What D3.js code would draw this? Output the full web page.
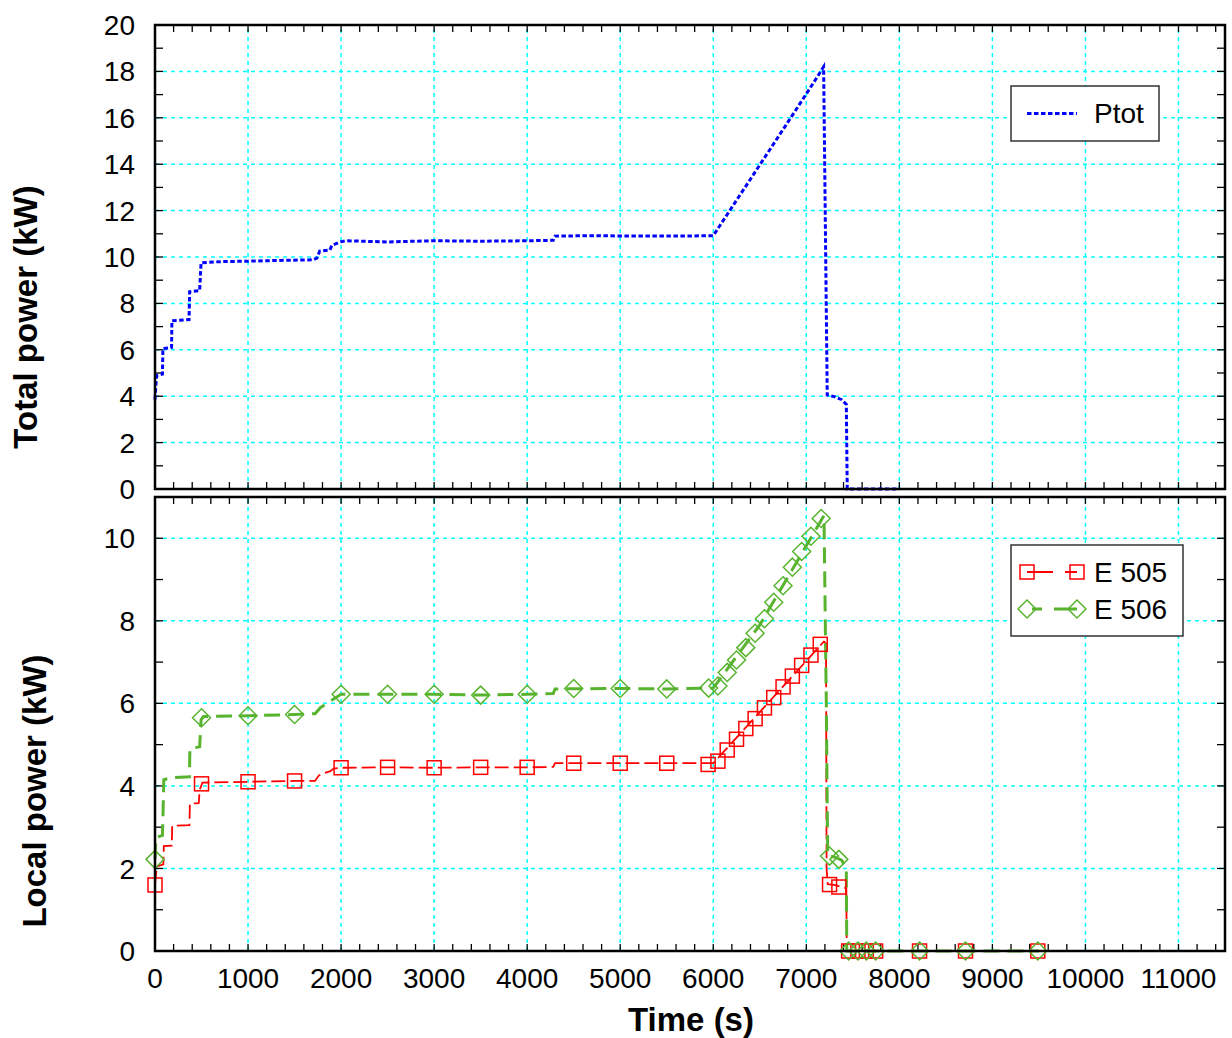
<!DOCTYPE html>
<html>
<head>
<meta charset="utf-8">
<script src="https://cdn.jsdelivr.net/npm/d3@7"></script>
<style>
  body { margin: 0; background: #fff; }
  text { font-family: "Liberation Sans", Arial, sans-serif; fill: #000; }
</style>
</head>
<body>
<svg id="chart" width="1232" height="1038"></svg>
<script>
// Total power (kW) vs time (s)
const ptotTime = [0, 15, 25, 80, 85, 178, 182, 366, 372, 480, 495, 700, 1000, 1300, 1700, 1740, 1770, 1880, 1900, 1990, 2050, 2500, 3000, 3500, 4000, 4280, 4300, 4700, 5200, 5600, 6000, 6500, 6800, 7100, 7186, 7225, 7300, 7380, 7430, 7440, 8000];
const ptotVal  = [3.85, 4.8, 4.9, 4.95, 6.05, 6.1, 7.25, 7.3, 8.5, 8.55, 9.75, 9.8, 9.82, 9.85, 9.88, 9.95, 10.25, 10.3, 10.5, 10.65, 10.7, 10.65, 10.7, 10.68, 10.7, 10.72, 10.9, 10.92, 10.9, 10.9, 10.92, 13.97, 15.8, 17.65, 18.2, 4.05, 3.98, 3.85, 3.65, 0, 0];

// E 505 local power
const e505Time = [0, 20, 90, 95, 180, 185, 370, 375, 470, 480, 510, 1000, 1500, 1720, 1760, 1800, 1880, 1920, 2000, 2500, 3000, 3500, 4000, 4280, 4300, 5000, 5500, 6000, 7190, 7212, 7218, 7230, 7300, 7380, 7430, 7435, 9500];
const e505Val  = [1.6, 2.05, 2.1, 2.54, 2.55, 3.03, 3.05, 3.57, 3.58, 3.9, 4.08, 4.1, 4.12, 4.12, 4.25, 4.3, 4.35, 4.42, 4.44, 4.45, 4.44, 4.45, 4.45, 4.46, 4.55, 4.55, 4.55, 4.55, 7.5, 7.45, 2.0, 1.62, 1.6, 1.55, 1.52, 0, 0];
const e505MarkTime = [0, 500, 1000, 1500, 2000, 2500, 3000, 3500, 4000, 4500, 5000, 5500, 5945, 6050, 6150, 6250, 6350, 6450, 6550, 6650, 6750, 6850, 6950, 7050, 7150, 7250, 7350, 7455, 7555, 7645, 7745, 8217, 8711, 9488];
const e505MarkVal  = [1.6, 4.05, 4.1, 4.12, 4.44, 4.45, 4.44, 4.45, 4.45, 4.55, 4.55, 4.55, 4.52, 4.6, 4.87, 5.13, 5.39, 5.63, 5.89, 6.14, 6.4, 6.66, 6.92, 7.17, 7.43, 1.61, 1.55, 0, 0, 0, 0, 0, 0, 0];

// E 506 local power
const e506Time = [0, 10, 80, 88, 95, 180, 370, 375, 480, 495, 520, 1000, 1500, 1720, 1780, 1850, 1950, 2000, 2500, 3000, 3500, 4000, 4280, 4300, 5000, 5500, 6000, 6500, 7190, 7215, 7230, 7300, 7380, 7430, 7435, 9500];
const e506Val  = [2.22, 2.75, 2.8, 3.5, 4.15, 4.2, 4.22, 4.9, 4.95, 5.6, 5.68, 5.7, 5.73, 5.75, 5.9, 6.0, 6.15, 6.22, 6.22, 6.22, 6.2, 6.22, 6.24, 6.35, 6.36, 6.35, 6.37, 7.9, 10.55, 6.0, 2.3, 2.28, 2.2, 2.0, 0, 0];
const e506MarkTime = [0, 500, 1000, 1500, 2000, 2500, 3000, 3500, 4000, 4500, 5000, 5500, 5950, 6050, 6150, 6250, 6350, 6450, 6550, 6650, 6750, 6850, 6950, 7050, 7160, 7250, 7350, 7455, 7555, 7645, 7745, 8217, 8711, 9488];
const e506MarkVal  = [2.22, 5.65, 5.7, 5.73, 6.22, 6.22, 6.22, 6.2, 6.22, 6.36, 6.36, 6.35, 6.37, 6.42, 6.75, 7.05, 7.35, 7.7, 8.05, 8.45, 8.85, 9.3, 9.68, 10.05, 10.48, 2.3, 2.22, 0, 0, 0, 0, 0, 0, 0];

const xTicks = d3.range(0, 11001, 1000);
const topYTicks = d3.range(0, 21, 2);
const botYTicks = d3.range(0, 11, 2);

const BLUE = "#0000ff", RED = "#ff0000", GREEN = "#58b42f", CYAN = "#00ffff";
const FONT = 28;

const svg = d3.select("#chart");
const x = d3.scaleLinear().domain([0, 11500]).range([155, 1225]);
const yTop = d3.scaleLinear().domain([0, 20]).range([489, 25]);
const yBot = d3.scaleLinear().domain([0, 11]).range([951, 497]);

function zip(ts, vs) { return ts.map((t, i) => [t, vs[i]]); }

function drawPanel(y, yMajor, yMinorStep, showXLabels) {
  const [x0, x1] = x.range();
  const [yb, yt] = y.range();
  const g = svg.append("g");

  // grid
  g.selectAll(".gx").data(xTicks.filter(t => t > 0)).enter().append("line")
    .attr("x1", d => x(d)).attr("x2", d => x(d)).attr("y1", yb).attr("y2", yt)
    .attr("stroke", CYAN).attr("stroke-width", 1.5).attr("stroke-dasharray", "4,4");
  g.selectAll(".gy").data(yMajor.filter(t => t > 0 && y(t) > yt + 2)).enter().append("line")
    .attr("y1", d => y(d)).attr("y2", d => y(d)).attr("x1", x0).attr("x2", x1)
    .attr("stroke", CYAN).attr("stroke-width", 1.5).attr("stroke-dasharray", "4,4");

  // ticks, inward on all four sides
  const xt = d3.range(200, 11500, 200);
  [yb, yt].forEach((yy, k) => {
    g.selectAll(null).data(xt).enter().append("line")
      .attr("x1", d => x(d)).attr("x2", d => x(d))
      .attr("y1", yy).attr("y2", k === 0 ? yy - 7 : yy + 7)
      .attr("stroke", "#000").attr("stroke-width", 1.3);
  });
  const yt2 = d3.range(yMinorStep, y.domain()[1], yMinorStep);
  [x0, x1].forEach((xx, k) => {
    g.selectAll(null).data(yt2).enter().append("line")
      .attr("y1", d => y(d)).attr("y2", d => y(d))
      .attr("x1", xx).attr("x2", k === 0 ? xx + 8 : xx - 8)
      .attr("stroke", "#000").attr("stroke-width", 1.3);
  });

  // y labels
  g.selectAll(".yl").data(yMajor).enter().append("text")
    .attr("x", 135).attr("y", d => y(d)).attr("dy", "0.36em")
    .attr("text-anchor", "end").style("font-size", FONT + "px")
    .text(d => d);

  if (showXLabels) {
    g.selectAll(".xl").data(xTicks).enter().append("text")
      .attr("x", d => x(d)).attr("y", 988)
      .attr("text-anchor", "middle").style("font-size", FONT + "px")
      .text(d => d);
  }
  return g;
}

function frame(y) {
  const [x0, x1] = x.range();
  const [yb, yt] = y.range();
  svg.append("rect").attr("x", x0).attr("y", yt).attr("width", x1 - x0).attr("height", yb - yt)
    .attr("fill", "none").attr("stroke", "#000").attr("stroke-width", 2.5);
}

function square(g, cx, cy, color) {
  g.append("rect").attr("x", cx - 7).attr("y", cy - 7).attr("width", 14).attr("height", 14)
    .attr("fill", "none").attr("stroke", color).attr("stroke-width", 1.5);
}
function diamond(g, cx, cy, color) {
  g.append("path").attr("d", `M${cx - 9},${cy}L${cx},${cy - 9}L${cx + 9},${cy}L${cx},${cy + 9}Z`)
    .attr("fill", "none").attr("stroke", color).attr("stroke-width", 1.5);
}

// ---- top panel
drawPanel(yTop, topYTicks, 1, false);
const lineTop = d3.line().x(d => x(d[0])).y(d => yTop(d[1]));
svg.append("path").datum(zip(ptotTime, ptotVal)).attr("d", lineTop)
  .attr("fill", "none").attr("stroke", BLUE).attr("stroke-width", 3).attr("stroke-dasharray", "4.5,2.5");
frame(yTop);

// ---- bottom panel
drawPanel(yBot, botYTicks, 1, true);
const lineBot = d3.line().x(d => x(d[0])).y(d => yBot(d[1]));
svg.append("path").datum(zip(e505Time, e505Val)).attr("d", lineBot)
  .attr("fill", "none").attr("stroke", RED).attr("stroke-width", 1.8).attr("stroke-dasharray", "14,5");
svg.append("path").datum(zip(e506Time, e506Val)).attr("d", lineBot)
  .attr("fill", "none").attr("stroke", GREEN).attr("stroke-width", 3).attr("stroke-dasharray", "16,8");
const marks = svg.append("g");
zip(e505MarkTime, e505MarkVal).forEach(d => square(marks, x(d[0]), yBot(d[1]), RED));
zip(e506MarkTime, e506MarkVal).forEach(d => diamond(marks, x(d[0]), yBot(d[1]), GREEN));
frame(yBot);

// ---- legends
const lg1 = svg.append("g");
lg1.append("rect").attr("x", 1011).attr("y", 86).attr("width", 148).attr("height", 55)
  .attr("fill", "#fff").attr("stroke", "#333").attr("stroke-width", 1.5);
lg1.append("line").attr("x1", 1027).attr("x2", 1077).attr("y1", 113.5).attr("y2", 113.5)
  .attr("stroke", BLUE).attr("stroke-width", 3).attr("stroke-dasharray", "4.5,2.5");
lg1.append("text").attr("x", 1094).attr("y", 123).style("font-size", FONT + "px").text("Ptot");

const lg2 = svg.append("g");
lg2.append("rect").attr("x", 1011).attr("y", 545).attr("width", 172).attr("height", 91)
  .attr("fill", "#fff").attr("stroke", "#333").attr("stroke-width", 1.5);
lg2.append("line").attr("x1", 1027).attr("x2", 1077).attr("y1", 572).attr("y2", 572)
  .attr("stroke", RED).attr("stroke-width", 1.8).attr("stroke-dasharray", "26,12");
square(lg2, 1027, 572, RED);
square(lg2, 1077, 572, RED);
lg2.append("text").attr("x", 1094).attr("y", 582).style("font-size", FONT + "px").text("E 505");
lg2.append("line").attr("x1", 1027).attr("x2", 1077).attr("y1", 609).attr("y2", 609)
  .attr("stroke", GREEN).attr("stroke-width", 3).attr("stroke-dasharray", "0,5,10,12,20");
diamond(lg2, 1027, 609, GREEN);
diamond(lg2, 1077, 609, GREEN);
lg2.append("text").attr("x", 1094).attr("y", 619).style("font-size", FONT + "px").text("E 506");

// ---- axis titles
svg.append("text").attr("transform", "translate(37,317) rotate(-90)")
  .attr("text-anchor", "middle").style("font-size", "33px").style("font-weight", "bold")
  .text("Total power (kW)");
svg.append("text").attr("transform", "translate(46,791) rotate(-90)")
  .attr("text-anchor", "middle").style("font-size", "33px").style("font-weight", "bold")
  .text("Local power (kW)");
svg.append("text").attr("x", 691).attr("y", 1031)
  .attr("text-anchor", "middle").style("font-size", "33px").style("font-weight", "bold")
  .text("Time (s)");
</script>
</body>
</html>
